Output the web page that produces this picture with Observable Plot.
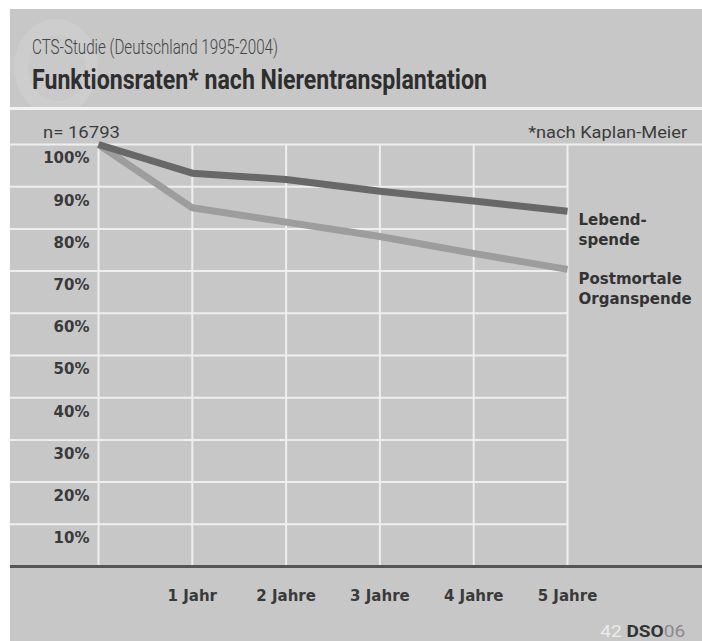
<!DOCTYPE html>
<html><head><meta charset="utf-8">
<script src="https://cdn.jsdelivr.net/npm/d3@7"></script>
<script src="https://cdn.jsdelivr.net/npm/@observablehq/plot@0.6"></script>
<style>
html,body{margin:0;padding:0;background:#fff;}
body{width:702px;height:641px;position:relative;overflow:hidden;}
#card{position:absolute;left:10px;top:9px;width:692px;height:632px;background:#c7c7c7;overflow:hidden;}
#head{position:absolute;left:0;top:0;width:692px;height:98px;overflow:hidden;}
.wm{position:absolute;border-radius:50%;}
#sep{position:absolute;left:0;top:98px;width:692px;height:3px;background:#f2f2f2;}
.fit{position:absolute;white-space:nowrap;line-height:1;}
#sub{left:22px;top:26px;font:300 20px Roboto;color:#454545;transform-origin:0 50%;}
#title{left:22px;top:55px;font:700 27px Roboto;color:#2e2e2e;transform-origin:0 50%;}
#nval{left:33px;top:113px;font:400 17px Roboto;color:#3c3c3c;transform-origin:0 50%;}
#km{right:15px;top:113px;font:400 17px Roboto;color:#3c3c3c;transform-origin:100% 50%;}
#logo{right:17px;top:613px;font:400 16px Roboto;transform-origin:100% 50%;}
#chart{position:absolute;left:0;top:101px;}
</style></head>
<body>
<div id="card">
  <div id="head">
    <div class="wm" style="left:4px;top:10px;width:84px;height:96px;background:#cdcdcd;"></div>
    <div class="wm" style="left:18px;top:26px;width:58px;height:66px;background:#c9c9c9;"></div>
    <div id="sub" class="fit">CTS-Studie (Deutschland 1995-2004)</div>
    <div id="title" class="fit">Funktionsraten* nach Nierentransplantation</div>
  </div>
  <div id="sep"></div>
  <div id="chart"></div>
  <div id="nval" class="fit">n= 16793</div>
  <div id="km" class="fit">*nach Kaplan-Meier</div>
  <div id="logo" class="fit"><span style="color:#ececec">42 </span><span style="color:#333;font-weight:700">DSO</span><span style="color:#8a8a8a">06</span></div>
</div>
<script>
// Data
const years = [0, 1, 2, 3, 4, 5];
const lebendspende = [100, 93.2, 91.7, 88.9, 86.6, 84.2];
const postmortal = [100, 85.0, 81.6, 78.2, 74.2, 70.4];
const seriesLabels = ["Lebend-\nspende", "Postmortale\nOrganspende"];
const xTicks = [1, 2, 3, 4, 5];
const xTickLabels = ["1 Jahr", "2 Jahre", "3 Jahre", "4 Jahre", "5 Jahre"];
const yTicks = [10, 20, 30, 40, 50, 60, 70, 80, 90, 100];
const yDomain = [0, 100];

const W = 692, H = 531, ML = 88, MR = 135, MT = 34, MB = 75;
const grid = "#efefef";

const lastValues = [lebendspende[lebendspende.length - 1], postmortal[postmortal.length - 1]];

const chart = Plot.plot({
  width: W, height: H,
  marginLeft: ML, marginRight: MR, marginTop: MT, marginBottom: MB,
  style: {background: "transparent", fontFamily: "DejaVu Sans", fontSize: "15px", fontWeight: "bold", color: "#3a3a3a"},
  x: {domain: [years[0], years[years.length - 1]]},
  y: {domain: yDomain},
  marks: [
    Plot.ruleY(yTicks.slice(0, -1), {stroke: grid, strokeWidth: 2, insetLeft: -ML}),
    Plot.ruleY(yTicks.slice(-1), {stroke: grid, strokeWidth: 2, insetLeft: -ML, insetRight: -MR}),
    Plot.ruleX(years, {stroke: grid, strokeWidth: 2}),
    Plot.ruleY(yDomain.slice(0, 1), {stroke: "#555", strokeWidth: 3, insetLeft: -ML, insetRight: -MR}),
    Plot.line(years, {x: d => d, y: (d, i) => postmortal[i], stroke: "#9d9d9d", strokeWidth: 7, strokeLinecap: "butt", strokeLinejoin: "miter"}),
    Plot.line(years, {x: d => d, y: (d, i) => lebendspende[i], stroke: "#686868", strokeWidth: 7, strokeLinecap: "butt", strokeLinejoin: "miter"}),
    Plot.text(seriesLabels, {x: () => years[years.length - 1], y: (d, i) => lastValues[i], text: d => d,
      textAnchor: "start", lineAnchor: "top", dx: 11, lineHeight: 1.33, fill: "#333"}),
    Plot.axisY(yTicks, {tickSize: 0, tickPadding: 9, dy: 14, tickFormat: d => d + "%", label: null, fill: "#3a3a3a"}),
    Plot.axisX(xTicks, {tickSize: 0, tickPadding: 24, tickFormat: d => xTickLabels[xTicks.indexOf(d)], label: null, fill: "#3a3a3a"})
  ]
});
document.getElementById("chart").appendChild(chart);

function fit(id, w) {
  const el = document.getElementById(id);
  const r = el.getBoundingClientRect().width;
  el.style.transform = `scaleX(${w / r})`;
}
fit("sub", 246);
fit("title", 455);
fit("nval", 77);
fit("km", 159);
fit("logo", 85);
</script>
</body></html>
